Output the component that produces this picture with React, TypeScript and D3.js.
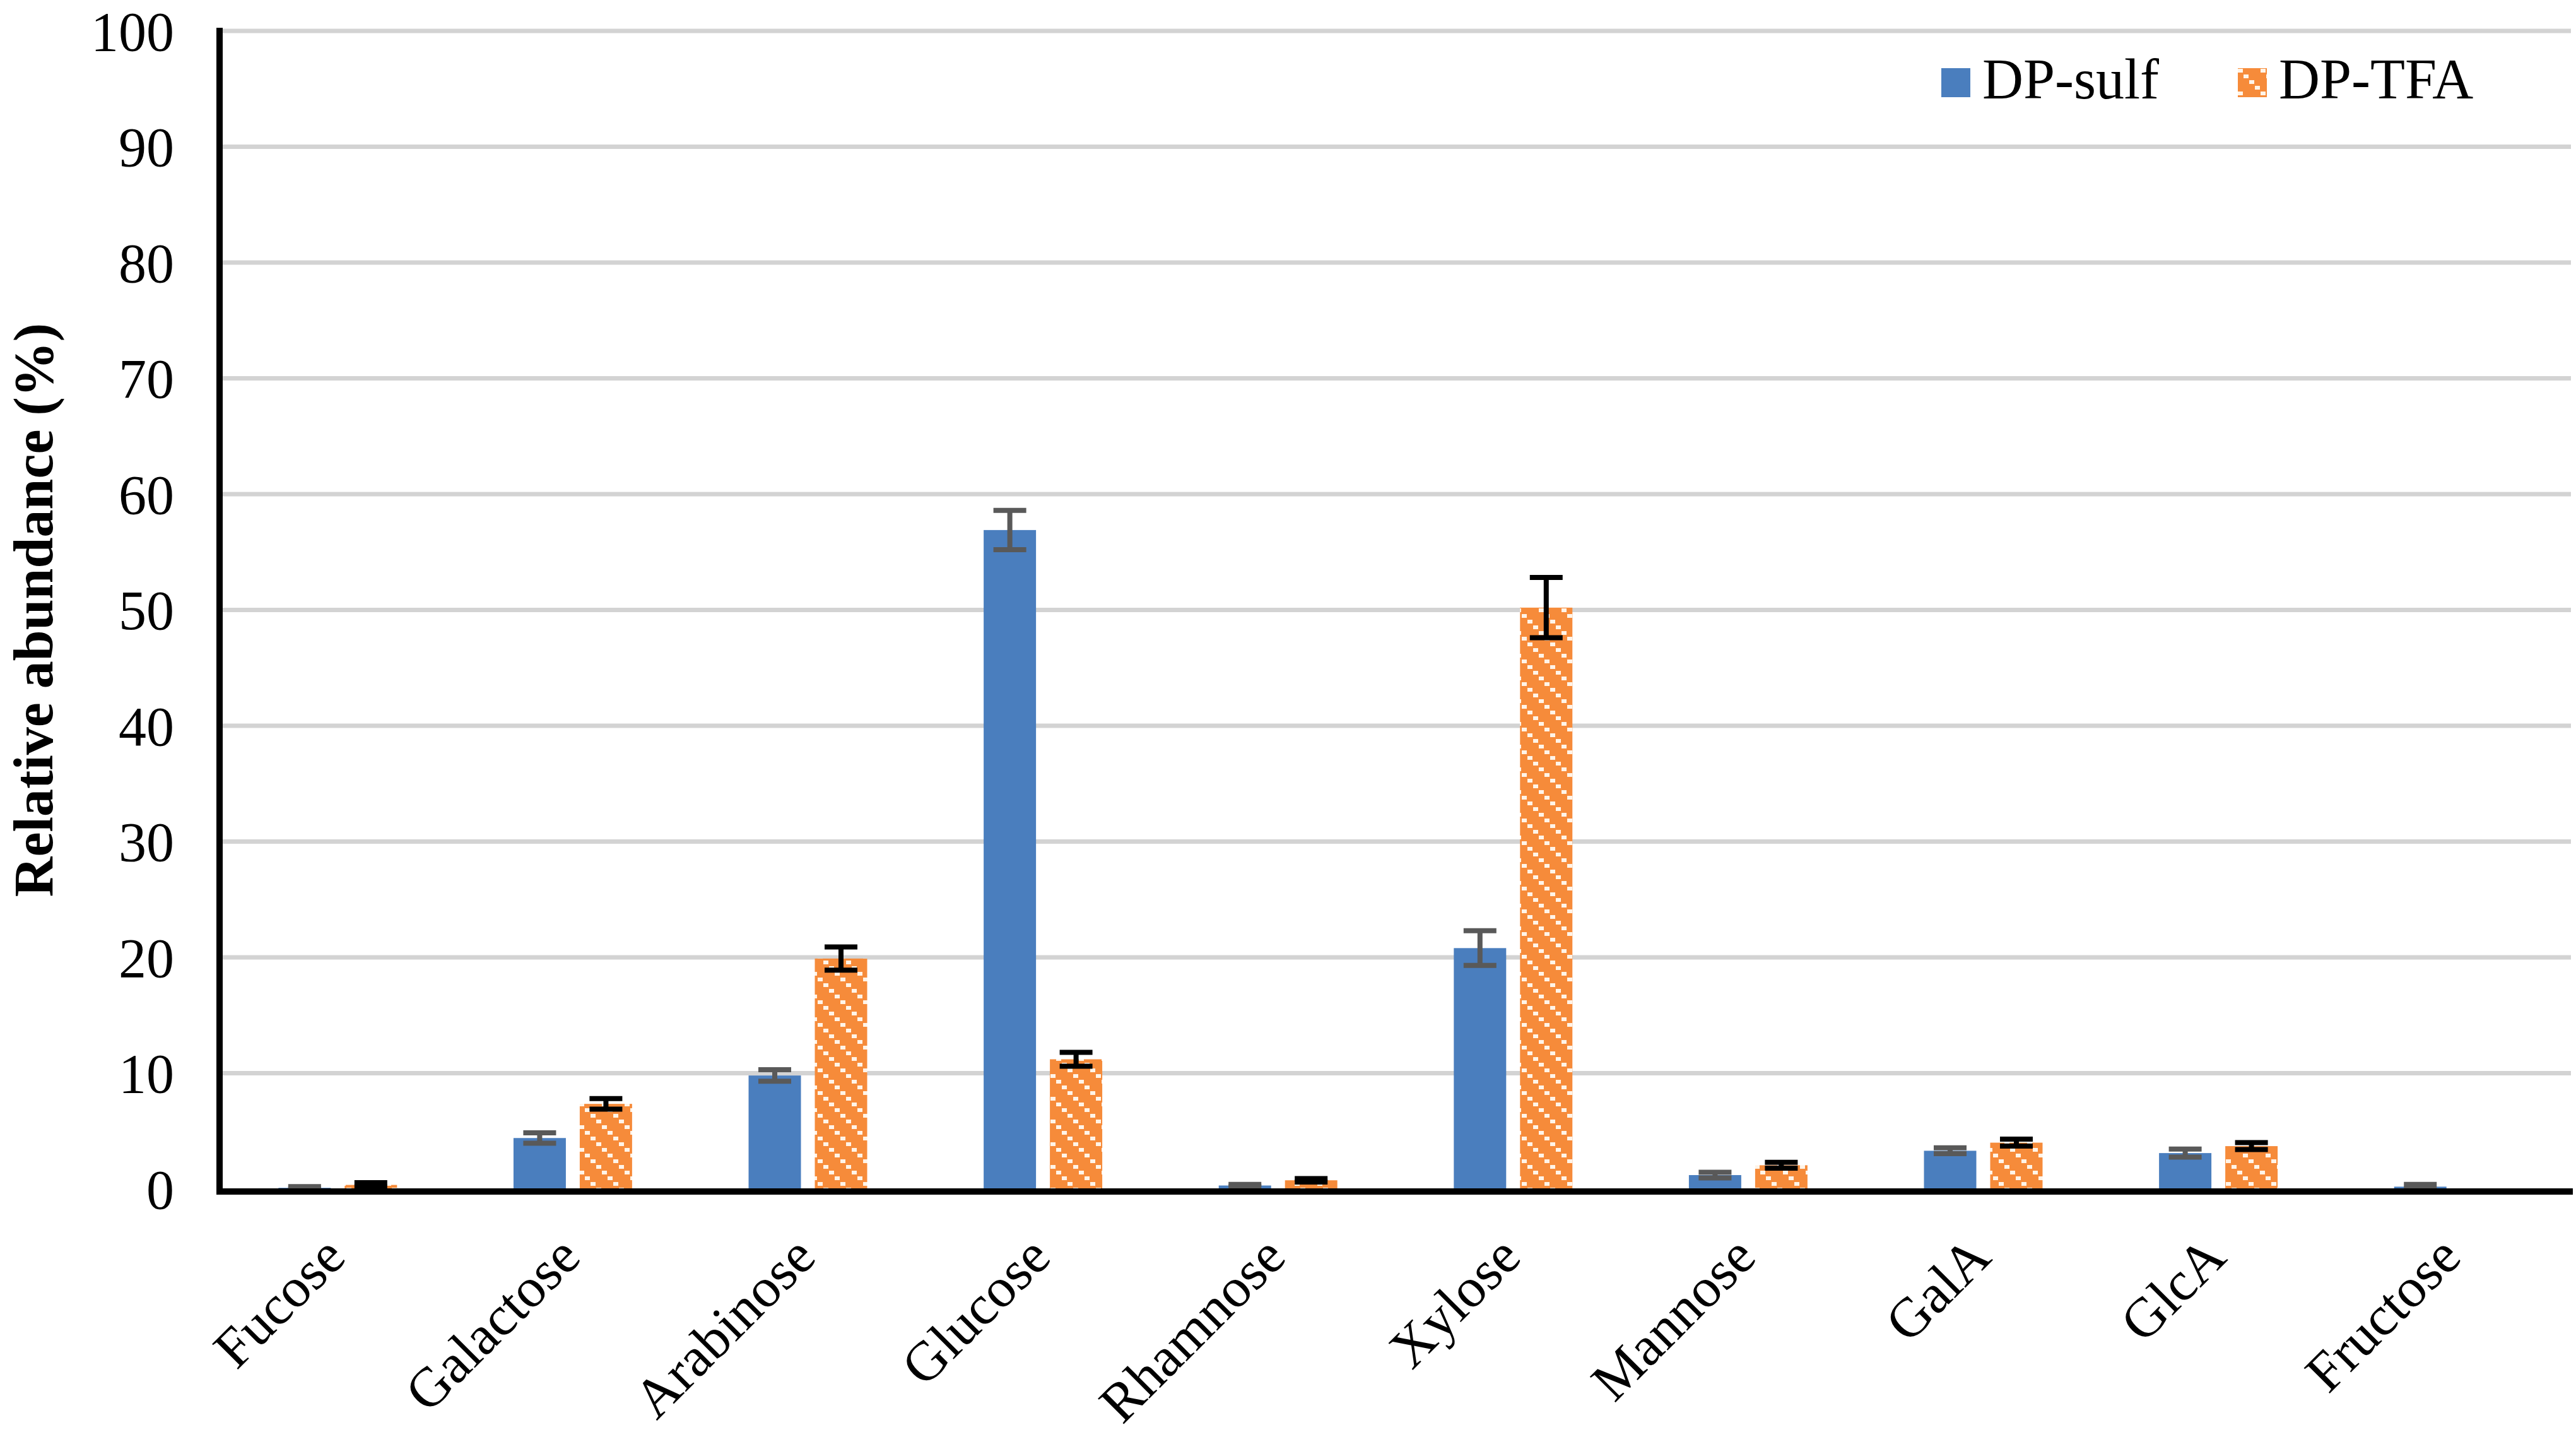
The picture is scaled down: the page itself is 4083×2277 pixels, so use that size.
import React, { useEffect, useRef } from 'react';
import * as d3 from 'd3';

const categories = ['Fucose', 'Galactose', 'Arabinose', 'Glucose', 'Rhamnose', 'Xylose', 'Mannose', 'GalA', 'GlcA', 'Fructose'];
const seriesNames = ['DP-sulf', 'DP-TFA'];
const sulfValues = [0.1, 4.4, 9.8, 56.9, 0.3, 20.8, 1.2, 3.3, 3.1, 0.2];
const sulfErrors = [0.1, 0.45, 0.5, 1.7, 0.1, 1.5, 0.25, 0.25, 0.35, 0.2];
const tfaValues = [0.35, 7.35, 19.9, 11.2, 0.75, 50.2, 2.05, 4.0, 3.7, 0];
const tfaErrors = [0.2, 0.45, 1.0, 0.6, 0.15, 2.6, 0.25, 0.3, 0.3, 0];
const yTicks = [0, 10, 20, 30, 40, 50, 60, 70, 80, 90, 100];

const width = 4083;
const height = 2277;
const font = '"Liberation Serif", "Times New Roman", serif';
const blue = '#4A7EBE';
const orange = '#F68B3A';

const App: React.FC = () => {
    const ref = useRef<SVGSVGElement>(null);

    useEffect(() => {
        drawChart();
        // eslint-disable-next-line
    }, []);

    const drawChart = () => {
        const svg = d3.select(ref.current);
        svg.selectAll('*').remove();

        const left = 349;
        const right = 4075;
        const top = 49;
        const bottom = 1884;

        const x = d3.scaleBand().domain(categories).range([left, right]).paddingInner(0.4955).paddingOuter(0.24775);
        const xSeries = d3.scaleBand().domain(seriesNames).range([0, x.bandwidth()]).paddingInner(0.2095);
        const y = d3.scaleLinear().domain([0, 100]).range([bottom, top]);

        // pattern for the TFA bars (orange with white diagonal dashes)
        const defs = svg.append('defs');
        const pat = defs.append('pattern')
            .attr('id', 'tfaHatch')
            .attr('patternUnits', 'userSpaceOnUse')
            .attr('width', 36)
            .attr('height', 36);
        pat.append('rect').attr('width', 36).attr('height', 36).attr('fill', orange);
        [0, 9, 18, 27].forEach((o) => {
            pat.append('rect')
                .attr('x', o)
                .attr('y', o + 1)
                .attr('width', 8)
                .attr('height', 6)
                .attr('fill', '#FFF4E8');
        });

        // gridlines
        svg.append('g')
            .selectAll('line')
            .data(yTicks.filter((t) => t > 0))
            .enter()
            .append('line')
            .attr('x1', left)
            .attr('x2', right)
            .attr('y1', (d) => y(d))
            .attr('y2', (d) => y(d))
            .attr('stroke', '#D3D3D3')
            .attr('stroke-width', 7);

        // y tick labels
        svg.append('g')
            .selectAll('text')
            .data(yTicks)
            .enter()
            .append('text')
            .attr('x', 276)
            .attr('y', (d) => y(d))
            .attr('dy', '0.35em')
            .attr('text-anchor', 'end')
            .attr('font-family', font)
            .attr('font-size', 88)
            .text((d) => d);

        const series = [
            { name: seriesNames[0], values: sulfValues, errors: sulfErrors, fill: blue, errColor: '#595959' },
            { name: seriesNames[1], values: tfaValues, errors: tfaErrors, fill: 'url(#tfaHatch)', errColor: '#000000' },
        ];

        series.forEach((s) => {
            const g = svg.append('g');
            g.selectAll('rect')
                .data(categories)
                .enter()
                .append('rect')
                .attr('x', (d) => (x(d) as number) + (xSeries(s.name) as number))
                .attr('width', xSeries.bandwidth())
                .attr('y', (d, i) => y(s.values[i]))
                .attr('height', (d, i) => bottom - y(s.values[i]))
                .attr('fill', s.fill);

            const capW = 52;
            const eb = g.selectAll('.err')
                .data(categories.filter((d, i) => s.errors[i] > 0))
                .enter()
                .append('g')
                .attr('class', 'err');
            const cx = (d: string) => (x(d) as number) + (xSeries(s.name) as number) + xSeries.bandwidth() / 2;
            const hi = (d: string) => y(s.values[categories.indexOf(d)] + s.errors[categories.indexOf(d)]);
            const lo = (d: string) => y(s.values[categories.indexOf(d)] - s.errors[categories.indexOf(d)]);
            eb.append('line')
                .attr('x1', cx).attr('x2', cx)
                .attr('y1', hi).attr('y2', lo)
                .attr('stroke', s.errColor).attr('stroke-width', 8);
            eb.append('line')
                .attr('x1', (d) => cx(d) - capW / 2).attr('x2', (d) => cx(d) + capW / 2)
                .attr('y1', hi).attr('y2', hi)
                .attr('stroke', s.errColor).attr('stroke-width', 8);
            eb.append('line')
                .attr('x1', (d) => cx(d) - capW / 2).attr('x2', (d) => cx(d) + capW / 2)
                .attr('y1', lo).attr('y2', lo)
                .attr('stroke', s.errColor).attr('stroke-width', 8);
        });

        // axes lines
        svg.append('line')
            .attr('x1', 348).attr('x2', 348)
            .attr('y1', 44).attr('y2', 1893)
            .attr('stroke', '#000').attr('stroke-width', 10);
        svg.append('line')
            .attr('x1', 343).attr('x2', 4078)
            .attr('y1', 1888).attr('y2', 1888)
            .attr('stroke', '#000').attr('stroke-width', 10);

        // x labels
        svg.append('g')
            .selectAll('text')
            .data(categories)
            .enter()
            .append('text')
            .attr('transform', (d) => `translate(${(x(d) as number) + x.bandwidth() / 2 + 16}, ${bottom + 112}) rotate(-45)`)
            .attr('text-anchor', 'end')
            .attr('font-family', font)
            .attr('font-size', 88)
            .text((d) => d);

        // y title
        svg.append('text')
            .attr('transform', `translate(83, ${(top + bottom) / 2}) rotate(-90)`)
            .attr('text-anchor', 'middle')
            .attr('font-family', font)
            .attr('font-weight', 'bold')
            .attr('font-size', 88)
            .text('Relative abundance (%)');

        // legend
        const legendItems = [
            { name: seriesNames[0], fill: blue, x: 3077 },
            { name: seriesNames[1], fill: 'url(#tfaHatch)', x: 3547 },
        ];
        const lg = svg.append('g')
            .selectAll('g')
            .data(legendItems)
            .enter()
            .append('g')
            .attr('transform', (d) => `translate(${d.x}, 108)`);
        lg.append('rect')
            .attr('width', 46)
            .attr('height', 46)
            .attr('fill', (d) => d.fill);
        lg.append('text')
            .attr('x', 65)
            .attr('y', 48)
            .attr('font-family', font)
            .attr('font-size', 90)
            .text((d) => d.name);
    };

    return (
        <svg
            ref={ref}
            width={width}
            height={height}
            style={{ position: 'absolute', left: 0, top: 0, background: '#fff' }}
        ></svg>
    );
};

export default App;
